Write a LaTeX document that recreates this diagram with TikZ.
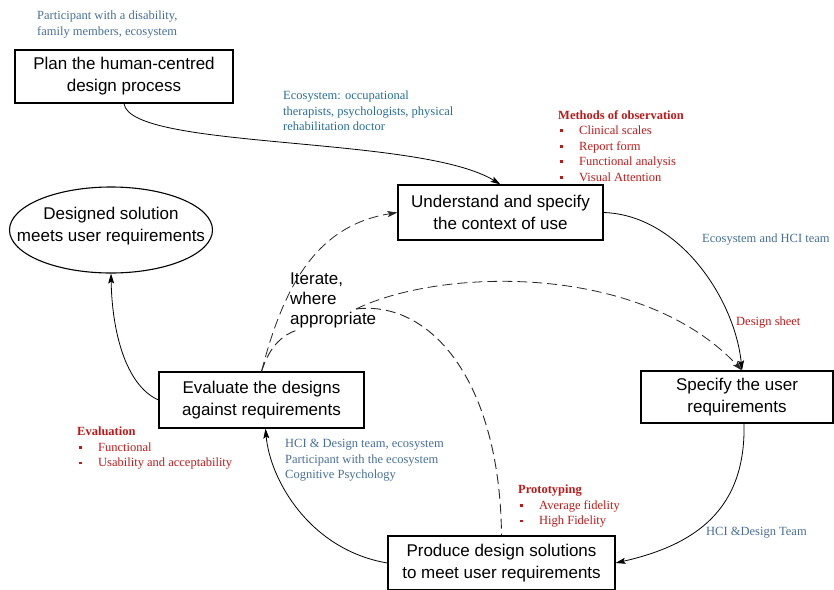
\documentclass[tikz,border=0pt]{standalone}
\usepackage{fontspec}
\setmainfont{Liberation Serif}
\newfontfamily\boxfont{Liberation Sans}
\usepackage{xcolor}
\usepackage{tikz}
\usetikzlibrary{positioning,shapes.geometric,arrows.meta}
\definecolor{noteblue}{RGB}{70,110,150}
\definecolor{ecoblue}{RGB}{40,110,150}
\definecolor{notered}{RGB}{190,25,25}
\tikzstyle{stage} = [rectangle, draw=black, line width=1.1pt, minimum height=54pt, align=center, inner sep=0pt, font=\boxfont\fontsize{17}{22}\selectfont]
\tikzstyle{goalshape} = [ellipse, draw=black, line width=1.1pt, inner sep=0pt]
\tikzstyle{note} = [anchor=north west, align=left, inner sep=0pt, font=\fontsize{12.5}{15.5}\selectfont]
\tikzstyle{arrow} = [-{Stealth[length=10pt,width=6pt,inset=2pt]}, line width=0.8pt]
\tikzstyle{iterline} = [dash pattern=on 10pt off 5pt, line width=0.9pt, black!85]
\newcommand{\itm}{\makebox[21pt][l]{\hspace{2pt}\rule[2.5pt]{2.8pt}{2.8pt}}}

\begin{document}
\begin{tikzpicture}[x=1pt,y=-1pt]
\useasboundingbox (0,0) rectangle (834,589);

% process stages
\node (plan) [stage, minimum width=218pt, minimum height=53pt] at (124,76.5) {Plan the human-centred\\design process};
\node (underst) [stage, minimum width=205pt, minimum height=55pt] at (500.5,212.5) {Understand and specify\\the context of use};
\node (spec) [stage, minimum width=192pt, minimum height=52pt] at (737,397) {Specify the user\\requirements};
\node (produce) [stage, minimum width=227pt, minimum height=54pt] at (501.5,563) {Produce design solutions\\to meet user requirements};
\node (eval) [stage, minimum width=205pt, minimum height=56pt] at (261.5,400) {Evaluate the designs\\against requirements};
\node (goal) [goalshape, minimum width=203pt, minimum height=86pt] at (111,230) {};
\node (goaltext) [align=center, font=\boxfont\fontsize{17}{22}\selectfont] at ([yshift=4pt]goal.center) {Designed solution\\meets user requirements};

% iteration hub
\node (iter) [anchor=north west, align=left, inner sep=0pt, font=\boxfont\fontsize{17}{20}\selectfont] at (290,273) {Iterate,\\where\\appropriate};
\coordinate (hub) at (356,309);
\coordinate (iterfoot) at (297,330);

% annotations
\node (who) [note, text=noteblue] at (37,11) {Participant with a disability,\\family members, ecosystem};
\node (ecoctx) [note, text=ecoblue] at (283,91) {Ecosystem: occupational\\therapists, psychologists, physical\\rehabilitation doctor};
\node (obs) [note, text=notered] at (558,110) {\textbf{Methods of observation}\\\itm Clinical scales\\\itm Report form\\\itm Functional analysis\\\itm Visual Attention};
\node (ecohci) [note, text=noteblue] at (702,234) {Ecosystem and HCI team};
\node (sheet) [note, text=notered] at (736,317) {Design sheet};
\node (evalnote) [note, text=notered] at (77,427) {\textbf{Evaluation}\\\itm Functional\\\itm Usability and acceptability};
\node (team) [note, text=noteblue] at (285,439) {HCI \& Design team, ecosystem\\Participant with the ecosystem\\Cognitive Psychology};
\node (proto) [note, text=notered] at (518,485) {\textbf{Prototyping}\\\itm Average fidelity\\\itm High Fidelity};
\node (hcid) [note, text=noteblue] at (706,527) {HCI \&Design Team};

% main cycle
\draw [arrow] (plan.south) .. controls (130,150) and (420,135) .. (underst.north);
\draw [arrow] (underst.east) .. controls (680,215) and (735,300) .. ([xshift=5pt]spec.north);
\draw [arrow] ([xshift=7pt]spec.south) .. controls (746,510) and (695,545) .. (produce.east);
\draw [arrow] (produce.west) .. controls (310,550) and (270,480) .. ([xshift=4pt]eval.south);
\draw [arrow] (eval.west) .. controls (125,385) and (112,330) .. (goal.south);

% iterate, where appropriate
\draw [iterline, arrow] (eval.north) .. controls (285,280) and (320,225) .. (underst.west);
\draw [iterline] (eval.north) .. controls (270,345) and (283,335) .. (iterfoot);
\draw [iterline, arrow] (hub) .. controls (440,268) and (640,262) .. ([xshift=5pt]spec.north);
\draw [iterline] (hub) .. controls (430,300) and (500,380) .. (produce.north);

\end{tikzpicture}
\end{document}
